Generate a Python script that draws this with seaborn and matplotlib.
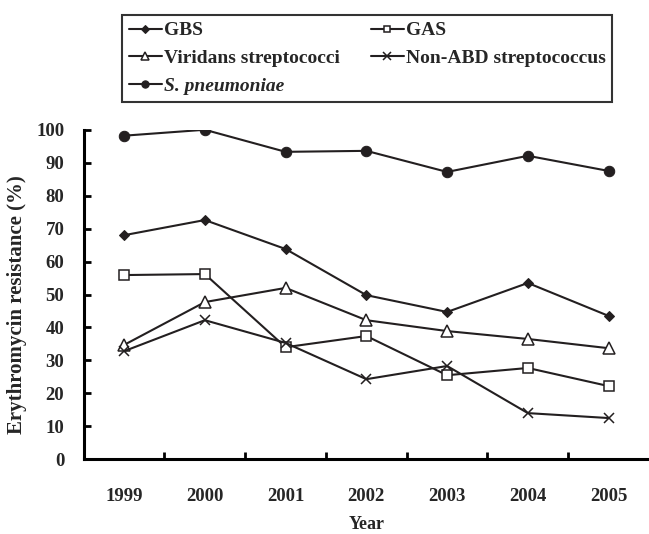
import matplotlib
matplotlib.use("Agg")
import matplotlib.pyplot as plt
import seaborn as sns
import numpy as np

years = ["1999", "2000", "2001", "2002", "2003", "2004", "2005"]
gbs = [68.0, 72.6, 63.8, 49.8, 44.7, 53.5, 43.5]
gas = [55.9, 56.2, 34.0, 37.4, 25.5, 27.7, 22.2]
viridans = [34.7, 47.7, 52.0, 42.2, 38.9, 36.5, 33.7]
non_abd = [32.8, 42.2, 35.3, 24.3, 28.3, 14.0, 12.5]
s_pneu = [98.2, 100.0, 93.3, 93.6, 87.2, 92.1, 87.5]

sns.set_theme(style="ticks")
plt.rcParams['font.family'] = ['Liberation Serif', 'DejaVu Serif']
plt.rcParams['font.weight'] = 'bold'

fig = plt.figure(figsize=(6.49, 5.34), dpi=100)
ax = fig.add_axes([0.129, 0.140, 0.871, 0.617])

pos = np.arange(len(years))
col = "#231f20"
series = [
    ("GBS", gbs, dict(marker="D", markersize=5.5, markerfacecolor=col, markeredgecolor=col)),
    ("GAS", gas, dict(marker="s", markersize=7, markerfacecolor="white", markeredgecolor=col, markeredgewidth=1.1)),
    ("Viridans streptococci", viridans, dict(marker="^", markersize=8, markerfacecolor="white", markeredgecolor=col, markeredgewidth=1.1)),
    ("Non-ABD streptococcus", non_abd, dict(marker="x", markersize=7.5, markeredgecolor=col, markeredgewidth=1.1)),
    ("S. pneumoniae", s_pneu, dict(marker="o", markersize=7.5, markerfacecolor=col, markeredgecolor=col)),
]
for name, vals, kw in series:
    sns.lineplot(x=pos, y=vals, ax=ax, color=col, linewidth=1.5, label=name, **kw)

h, l = ax.get_legend_handles_labels()
ax.get_legend().remove()
hd = dict(zip(l, h))
order = ["GBS", "Viridans streptococci", "S. pneumoniae", "GAS", "Non-ABD streptococcus"]
leg = fig.legend([hd[k] for k in order], order, ncol=2, loc="upper left",
                 bbox_to_anchor=(0.188, 0.972), frameon=True, fancybox=False,
                 edgecolor="black", handlelength=1.7, handletextpad=0.1,
                 columnspacing=1.6, labelspacing=0.52, borderpad=0.35,
                 borderaxespad=0.0, markerscale=0.7,
                 prop=dict(family='Liberation Serif', weight='bold', size=14))
leg.get_frame().set_linewidth(1.5)
for t in leg.get_texts():
    t.set_fontweight('bold')
    if t.get_text() == "S. pneumoniae":
        t.set_fontstyle("italic")

ax.set_xlim(-0.5, 6.5)
ax.set_ylim(0, 100)
ax.set_yticks(np.arange(0, 101, 10))
ax.set_xticks(pos)
ax.set_xticklabels(years)
ax.set_xticks(np.arange(0.5, 6.0, 1.0), minor=True)
ax.tick_params(axis='x', which='major', length=0, pad=21, labelsize=13.5)
ax.tick_params(axis='x', which='minor', length=5, width=2, direction='in', color='black')
ax.tick_params(axis='y', which='major', length=5, width=2, direction='in', labelsize=13.5, pad=14, color='black')
for lab in ax.get_xticklabels() + ax.get_yticklabels():
    lab.set_fontweight('bold')
sns.despine(ax=ax)
for s in ["left", "bottom"]:
    ax.spines[s].set_linewidth(2.2)
    ax.spines[s].set_color("black")
ax.set_xlabel("Year", fontsize=13, fontweight='bold')
ax.xaxis.set_label_coords(0.5, -0.172)
ax.set_ylabel("Erythromycin resistance (%)", fontsize=15, fontweight='bold')
ax.yaxis.set_label_coords(-0.1, 0.47)

fig.savefig("out.png", dpi=100)
